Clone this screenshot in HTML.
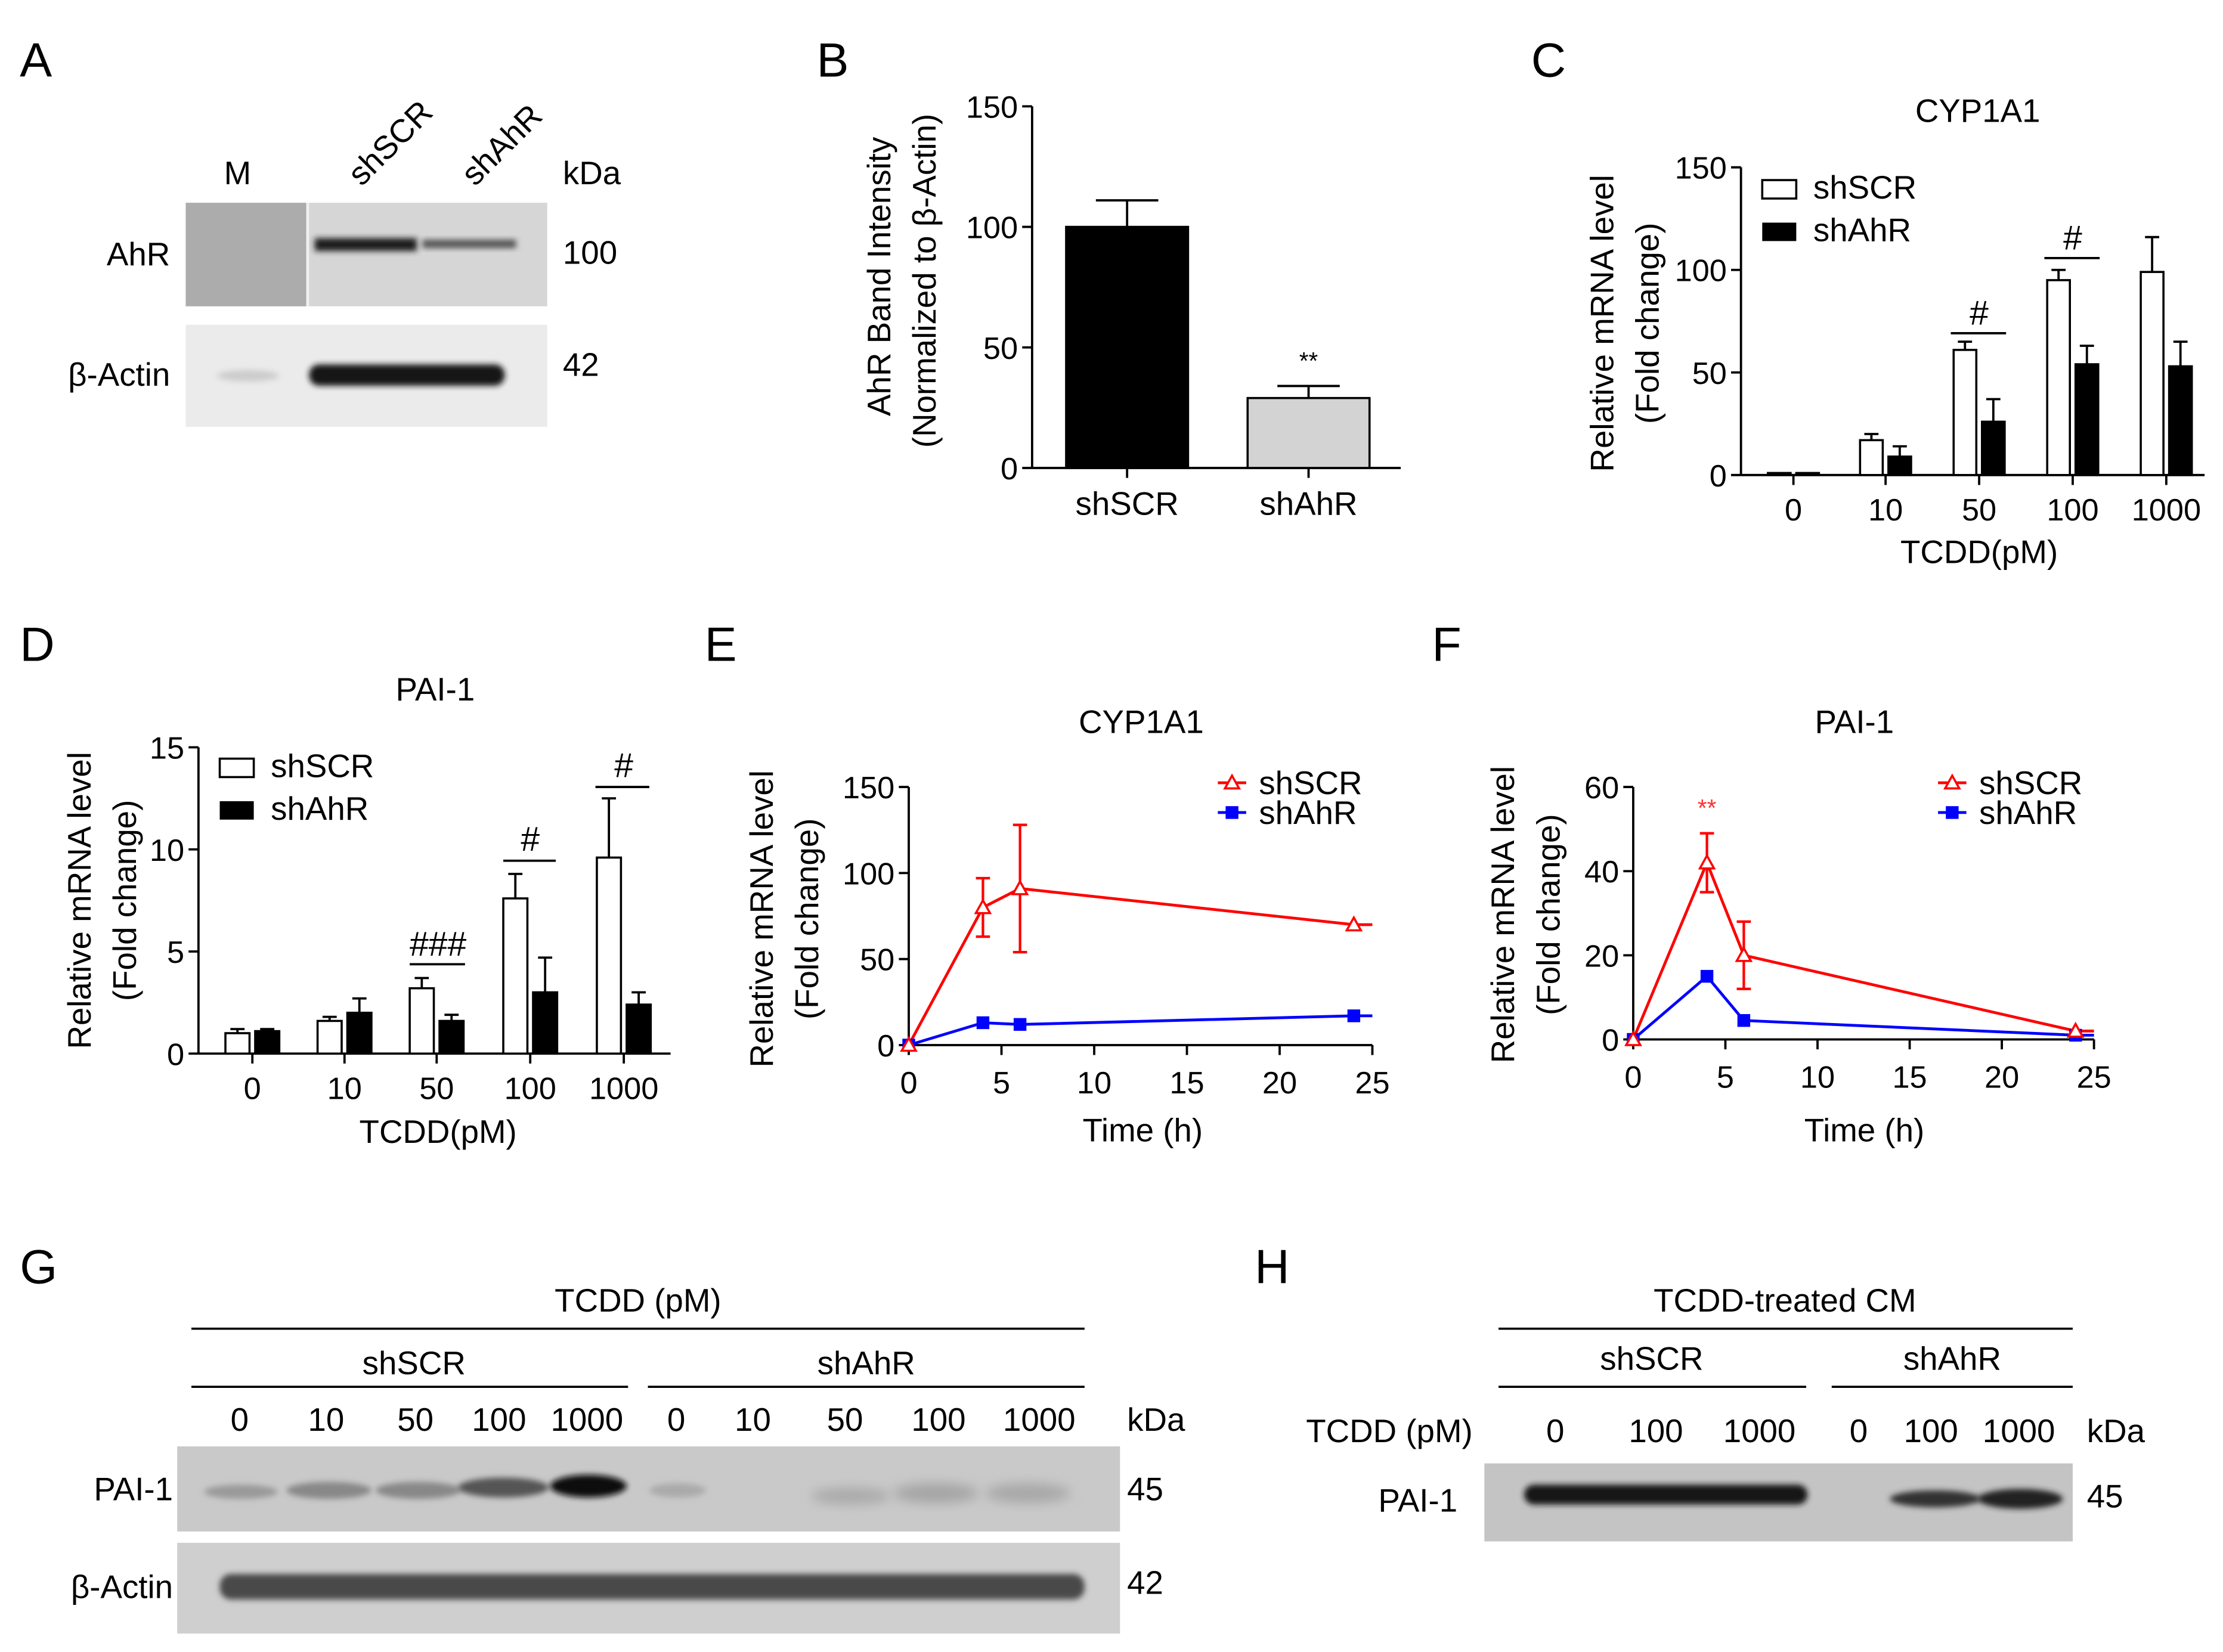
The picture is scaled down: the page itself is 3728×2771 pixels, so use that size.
<!DOCTYPE html>
<html><head><meta charset="utf-8"><style>
html,body{margin:0;padding:0;background:#fff}
svg{display:block}
text{font-family:"Liberation Sans",Arial,sans-serif;fill:#000}
</style></head><body>
<svg id="fig" xmlns="http://www.w3.org/2000/svg" width="3728" height="2771" viewBox="0 0 1568 1165" preserveAspectRatio="none">
<defs>
<filter id="blur2" x="-20%" y="-50%" width="140%" height="200%"><feGaussianBlur stdDeviation="2"/></filter>
<filter id="blur4" x="-20%" y="-50%" width="140%" height="200%"><feGaussianBlur stdDeviation="4"/></filter>
</defs>
<!-- Panel A -->
<g>
<text x="14" y="54" font-size="34">A</text>
<text x="158" y="130" font-size="23">M</text>
<text transform="translate(255,132) rotate(-45)" font-size="23">shSCR</text>
<text transform="translate(335,132) rotate(-45)" font-size="23">shAhR</text>
<text x="397" y="130" font-size="23">kDa</text>
<text x="120" y="187" font-size="23" text-anchor="end">AhR</text>
<text x="120" y="272" font-size="23" text-anchor="end">β-Actin</text>
<text x="397" y="186" font-size="23">100</text>
<text x="397" y="265" font-size="23">42</text>
<g>
<rect x="131" y="143" width="255" height="73" fill="#d6d6d6"/>
<rect x="131" y="143" width="85" height="73" fill="#9a9a9a" opacity="0.7"/>
<rect x="216" y="143" width="2" height="73" fill="#f0f0f0"/>
<rect x="222" y="168" width="72" height="9" fill="#1e1e1e" filter="url(#blur2)"/>
<rect x="298" y="169" width="66" height="6" fill="#555" filter="url(#blur2)"/>
</g>
<g>
<rect x="131" y="229" width="255" height="72" fill="#ebebeb"/>
<ellipse cx="175" cy="265" rx="22" ry="4" fill="#ccc" filter="url(#blur2)"/>
<rect x="218" y="257" width="138" height="15" rx="7" fill="#151515" filter="url(#blur2)"/>
</g>
</g>
<!-- Panel B -->
<g id="pb">
<text x="576" y="54" font-size="34">B</text>
<text transform="translate(628,195) rotate(-90)" font-size="23" text-anchor="middle">AhR Band Intensity</text>
<text transform="translate(660,198) rotate(-90)" font-size="23" text-anchor="middle">(Normalized to β-Actin)</text>
</g>
<!-- Panel C -->
<g id="pc">
<text x="1080" y="54" font-size="34">C</text>
<text x="1395" y="86" font-size="23" text-anchor="middle">CYP1A1</text>
<text transform="translate(1138,228) rotate(-90)" font-size="23" text-anchor="middle">Relative mRNA level</text>
<text transform="translate(1170,228) rotate(-90)" font-size="23" text-anchor="middle">(Fold change)</text>
<text x="1396" y="397" font-size="23" text-anchor="middle">TCDD(pM)</text>
</g>
<!-- Panel D -->
<g id="pd">
<text x="14" y="466" font-size="34">D</text>
<text x="307" y="494" font-size="23" text-anchor="middle">PAI-1</text>
<text transform="translate(64,635) rotate(-90)" font-size="23" text-anchor="middle">Relative mRNA level</text>
<text transform="translate(96,635) rotate(-90)" font-size="23" text-anchor="middle">(Fold change)</text>
<text x="309" y="806" font-size="23" text-anchor="middle">TCDD(pM)</text>
</g>
<!-- Panel E -->
<g id="pe">
<text x="497" y="466" font-size="34">E</text>
<text x="805" y="517" font-size="23" text-anchor="middle">CYP1A1</text>
<text transform="translate(545,648) rotate(-90)" font-size="23" text-anchor="middle">Relative mRNA level</text>
<text transform="translate(577,648) rotate(-90)" font-size="23" text-anchor="middle">(Fold change)</text>
<text x="806" y="805" font-size="23" text-anchor="middle">Time (h)</text>
</g>
<!-- Panel F -->
<g id="pf">
<text x="1010" y="466" font-size="34">F</text>
<text x="1308" y="517" font-size="23" text-anchor="middle">PAI-1</text>
<text transform="translate(1068,645) rotate(-90)" font-size="23" text-anchor="middle">Relative mRNA level</text>
<text transform="translate(1100,645) rotate(-90)" font-size="23" text-anchor="middle">(Fold change)</text>
<text x="1315" y="805" font-size="23" text-anchor="middle">Time (h)</text>
</g>
<!-- Panel G -->
<g>
<text x="14" y="905" font-size="34">G</text>
<text x="450" y="925" font-size="23" text-anchor="middle">TCDD (pM)</text>
<line x1="135" y1="937" x2="765" y2="937" stroke="#000" stroke-width="1.5"/>
<text x="292" y="969" font-size="23" text-anchor="middle">shSCR</text>
<text x="611" y="969" font-size="23" text-anchor="middle">shAhR</text>
<line x1="135" y1="978" x2="443" y2="978" stroke="#000" stroke-width="1.5"/>
<line x1="457" y1="978" x2="765" y2="978" stroke="#000" stroke-width="1.5"/>
<g font-size="23" text-anchor="middle">
<text x="169" y="1009">0</text><text x="230" y="1009">10</text><text x="293" y="1009">50</text><text x="352" y="1009">100</text><text x="414" y="1009">1000</text>
<text x="477" y="1009">0</text><text x="531" y="1009">10</text><text x="596" y="1009">50</text><text x="662" y="1009">100</text><text x="733" y="1009">1000</text>
</g>
<text x="795" y="1009" font-size="23">kDa</text>
<text x="122" y="1058" font-size="23" text-anchor="end">PAI-1</text>
<text x="122" y="1127" font-size="23" text-anchor="end">β-Actin</text>
<text x="795" y="1058" font-size="23">45</text>
<text x="795" y="1124" font-size="23">42</text>
<g>
<rect x="125" y="1020" width="665" height="60" fill="#c9c9c9"/>
<ellipse cx="170" cy="1052" rx="26" ry="5" fill="#9a9a9a" filter="url(#blur2)"/>
<ellipse cx="232" cy="1051" rx="30" ry="6" fill="#888" filter="url(#blur2)"/>
<ellipse cx="295" cy="1051" rx="30" ry="6" fill="#888" filter="url(#blur2)"/>
<ellipse cx="355" cy="1049" rx="32" ry="7" fill="#555" filter="url(#blur2)"/>
<ellipse cx="415" cy="1048" rx="27" ry="8" fill="#111" filter="url(#blur2)"/>
<ellipse cx="478" cy="1051" rx="20" ry="5" fill="#aaa" filter="url(#blur2)"/>
<ellipse cx="600" cy="1055" rx="28" ry="6" fill="#aaa" filter="url(#blur4)"/>
<ellipse cx="660" cy="1053" rx="30" ry="7" fill="#a5a5a5" filter="url(#blur4)"/>
<ellipse cx="725" cy="1053" rx="30" ry="7" fill="#a8a8a8" filter="url(#blur4)"/>
</g>
<g>
<rect x="125" y="1088" width="665" height="64" fill="#cfcfcf"/>
<rect x="155" y="1110" width="610" height="18" rx="8" fill="#4a4a4a" filter="url(#blur2)"/>
</g>
</g>
<!-- Panel H -->
<g>
<text x="885" y="905" font-size="34">H</text>
<text x="1259" y="925" font-size="23" text-anchor="middle">TCDD-treated CM</text>
<line x1="1057" y1="937" x2="1462" y2="937" stroke="#000" stroke-width="1.5"/>
<text x="1165" y="966" font-size="23" text-anchor="middle">shSCR</text>
<text x="1377" y="966" font-size="23" text-anchor="middle">shAhR</text>
<line x1="1057" y1="978" x2="1274" y2="978" stroke="#000" stroke-width="1.5"/>
<line x1="1292" y1="978" x2="1462" y2="978" stroke="#000" stroke-width="1.5"/>
<g font-size="23" text-anchor="middle">
<text x="980" y="1017">TCDD (pM)</text>
<text x="1097" y="1017">0</text><text x="1168" y="1017">100</text><text x="1241" y="1017">1000</text>
<text x="1311" y="1017">0</text><text x="1362" y="1017">100</text><text x="1424" y="1017">1000</text>
</g>
<text x="1472" y="1017" font-size="23">kDa</text>
<text x="1028" y="1066" font-size="23" text-anchor="end">PAI-1</text>
<text x="1472" y="1063" font-size="23">45</text>
<g>
<rect x="1047" y="1032" width="415" height="55" fill="#c4c4c4"/>
<rect x="1075" y="1047" width="200" height="14" rx="7" fill="#151515" filter="url(#blur2)"/>
<ellipse cx="1365" cy="1057" rx="32" ry="6" fill="#333" filter="url(#blur2)"/>
<ellipse cx="1425" cy="1057" rx="30" ry="7" fill="#222" filter="url(#blur2)"/>
</g>
</g>
</svg>
<script>
var NS="http://www.w3.org/2000/svg";
// Panel B data
var bCats=["shSCR","shAhR"];
var bVals=[100,29];
var bErrs=[11,5];
var bTicks=[0,50,100,150];
// Panel C data
var cCats=["0","10","50","100","1000"];
var cSCR=[1,17,61,95,99];
var cSCRerr=[0,3,4,5,17];
var cAhR=[1,9,26,54,53];
var cAhRerr=[0,5,11,9,12];
var cTicks=[0,50,100,150];
// Panel D data
var dCats=["0","10","50","100","1000"];
var dSCR=[1,1.6,3.2,7.6,9.6];
var dSCRerr=[0.2,0.2,0.5,1.2,2.9];
var dAhR=[1.1,2,1.6,3,2.4];
var dAhRerr=[0.1,0.7,0.3,1.7,0.6];
var dTicks=[0,5,10,15];
// Panel E data
var eTimes=[0,4,6,24];
var eSCR=[0,80,91,70];
var eSCRerr=[0,17,37,0];
var eAhR=[0,13,12,17];
var eYTicks=[0,50,100,150];
var eXTicks=[0,5,10,15,20,25];
// Panel F data
var fTimes=[0,4,6,24];
var fSCR=[0,42,20,2];
var fSCRerr=[0,7,8,0];
var fAhR=[0,15,4.5,1];
var fYTicks=[0,20,40,60];
var fXTicks=[0,5,10,15,20,25];

function mk(parent,tag,attrs,txt){var e=document.createElementNS(NS,tag);for(var k in attrs)e.setAttribute(k,attrs[k]);if(txt!==undefined)e.textContent=txt;parent.appendChild(e);return e;}
function line(p,x1,y1,x2,y2,c,w){return mk(p,"line",{x1:x1,y1:y1,x2:x2,y2:y2,stroke:c||"#000","stroke-width":w||1.6});}
function errbar(p,x,y1,y2,hw,c){line(p,x,y1,x,y2,c);line(p,x-hw,y2,x+hw,y2,c);}
function yaxis(p,x,yfn,ticks,y0,y1){line(p,x,y0,x,y1);ticks.forEach(function(t){var y=yfn(t);line(p,x-7,y,x,y);var tx=mk(p,"text",{x:x-10,y:y+8,"font-size":22,"text-anchor":"end"},String(t));});}

// ---- B
(function(){
var g=document.getElementById("pb");
var y=function(v){return 330-v*(255/150);};
yaxis(g,728,y,bTicks,75,330);
line(g,728,330,988,330);
var xs=[795,923];
bVals.forEach(function(v,i){
 var r=mk(g,"rect",{x:xs[i]-43,y:y(v),width:86,height:330-y(v),fill:i==0?"#000":"#d3d3d3",stroke:"#000","stroke-width":1.5});
 
 
 errbar(g,xs[i],y(v),y(v+bErrs[i]),22);
 line(g,xs[i],330,xs[i],337);
 var t=mk(g,"text",{x:xs[i],y:363,"font-size":23,"text-anchor":"middle"},bCats[i]);
 
 
});
mk(g,"text",{x:923,y:y(bVals[1]+bErrs[1])-12,"font-size":17,"text-anchor":"middle"},"**");
})();

function groupedBars(gid,ax,yb,yt,maxV,cx,bw,cats,s1,e1,s2,e2,ticks,xEnd,legend){
 var g=document.getElementById(gid);
 var y=function(v){return yb-v*((yb-yt)/maxV);};
 yaxis(g,ax,y,ticks,yt,yb);
 line(g,ax,yb,xEnd,yb);
 cats.forEach(function(c,i){
  var x=cx[i];
  line(g,x,yb,x,yb+7);
  var t=mk(g,"text",{x:x,y:yb+32,"font-size":22,"text-anchor":"middle"},c);
  
  
  var r1=mk(g,"rect",{x:x-bw-2,y:y(s1[i]),width:bw,height:yb-y(s1[i]),fill:"#fff",stroke:"#000","stroke-width":1.5});
  
  
  if(e1[i]>0)errbar(g,x-bw/2-2,y(s1[i]),y(s1[i]+e1[i]),5);
  var r2=mk(g,"rect",{x:x+2,y:y(s2[i]),width:bw,height:yb-y(s2[i]),fill:"#000",stroke:"#000","stroke-width":1.5});
  
  
  if(e2[i]>0)errbar(g,x+bw/2+2,y(s2[i]),y(s2[i]+e2[i]),5);
 });
 var lg=mk(g,"g",{});
 
 
 mk(lg,"rect",{x:legend[0],y:legend[1]-13,width:24,height:13,fill:"#fff",stroke:"#000","stroke-width":1.5});
 mk(lg,"text",{x:legend[0]+36,y:legend[1],"font-size":23},"shSCR");
 mk(lg,"rect",{x:legend[0],y:legend[1]+17,width:24,height:13,fill:"#000"});
 mk(lg,"text",{x:legend[0]+36,y:legend[1]+30,"font-size":23},"shAhR");
 return {g:g,y:y};
}
// ---- C
(function(){
var r=groupedBars("pc",1228,335,118,150,[1265,1330,1396,1462,1528],16,cCats,cSCR,cSCRerr,cAhR,cAhRerr,cTicks,1555,[1243,140]);
var g=r.g;
line(g,1376,235,1415,235);mk(g,"text",{x:1396,y:229,"font-size":24,"text-anchor":"middle"},"#");
line(g,1442,182,1481,182);mk(g,"text",{x:1462,y:176,"font-size":24,"text-anchor":"middle"},"#");
})();
// ---- D
(function(){
var r=groupedBars("pd",140,743,527,15,[178,243,308,374,440],17,dCats,dSCR,dSCRerr,dAhR,dAhRerr,dTicks,473,[155,548]);
var g=r.g;
line(g,289,680,328,680);mk(g,"text",{x:309,y:674,"font-size":24,"text-anchor":"middle"},"###");
line(g,355,607,392,607);mk(g,"text",{x:374,y:600,"font-size":24,"text-anchor":"middle"},"#");
line(g,420,555,458,555);mk(g,"text",{x:440,y:548,"font-size":24,"text-anchor":"middle"},"#");
})();

function lineChart(gid,x0,x1,yb,yt,maxY,times,s1,e1,s2,yt_,xt_,leg){
 var g=document.getElementById(gid);
 var x=function(t){return x0+t*(x1-x0)/25;};
 var y=function(v){return yb-v*(yb-yt)/maxY;};
 yaxis(g,x0,y,yt_,yt,yb);
 line(g,x0,yb,x1,yb);
 xt_.forEach(function(t){line(g,x(t),yb,x(t),yb+7);var tx=mk(g,"text",{x:x(t),y:yb+34,"font-size":22,"text-anchor":"middle"},String(t));});
 var p1=times.map(function(t,i){return x(t)+","+y(s1[i]);}).join(" ")+" "+x1+","+y(s1[s1.length-1]);
 var p2=times.map(function(t,i){return x(t)+","+y(s2[i]);}).join(" ")+" "+x1+","+y(s2[s2.length-1]);
 var l2=mk(g,"polyline",{points:p2,fill:"none",stroke:"#0000ff","stroke-width":2});
 
 
 var l1=mk(g,"polyline",{points:p1,fill:"none",stroke:"#ff0000","stroke-width":2});
 
 
 times.forEach(function(t,i){
  if(e1[i]>0){var c="#ff0000";line(g,x(t),y(s1[i]-e1[i]),x(t),y(s1[i]+e1[i]),c,1.8);line(g,x(t)-5,y(s1[i]+e1[i]),x(t)+5,y(s1[i]+e1[i]),c,1.8);line(g,x(t)-5,y(s1[i]-e1[i]),x(t)+5,y(s1[i]-e1[i]),c,1.8);}
  var m=mk(g,"rect",{x:x(t)-4.5,y:y(s2[i])-4.5,width:9,height:9,fill:"#0000ff"});
  
  
  var tr=mk(g,"polygon",{points:(x(t)-5)+","+(y(s1[i])+4)+" "+(x(t)+5)+","+(y(s1[i])+4)+" "+x(t)+","+(y(s1[i])-5),fill:"#fff",stroke:"#ff0000","stroke-width":1.5});
  
  
 });
 var lg=mk(g,"g",{});
 
 
 line(lg,leg[0],leg[1],leg[0]+20,leg[1],"#ff0000",2);
 mk(lg,"polygon",{points:(leg[0]+5)+","+(leg[1]+4)+" "+(leg[0]+15)+","+(leg[1]+4)+" "+(leg[0]+10)+","+(leg[1]-5),fill:"#fff",stroke:"#ff0000","stroke-width":1.5});
 mk(lg,"text",{x:leg[0]+29,y:leg[1]+8,"font-size":23},"shSCR");
 line(lg,leg[0],leg[1]+21,leg[0]+20,leg[1]+21,"#0000ff",2);
 mk(lg,"rect",{x:leg[0]+5.5,y:leg[1]+16.5,width:9,height:9,fill:"#0000ff"});
 mk(lg,"text",{x:leg[0]+29,y:leg[1]+29,"font-size":23},"shAhR");
 return {g:g,x:x,y:y};
}
lineChart("pe",641,968,737,555,150,eTimes,eSCR,eSCRerr,eAhR,eYTicks,eXTicks,[859,552]);
(function(){
var r=lineChart("pf",1152,1477,733,555,60,fTimes,fSCR,fSCRerr,fAhR,fYTicks,fXTicks,[1367,552]);
mk(r.g,"text",{x:r.x(fTimes[1]),y:r.y(fSCR[1]+fSCRerr[1])-12,"font-size":17,"text-anchor":"middle",fill:"#ff3030",style:"fill:#ff3030"},"**");
})();
</script>
</body></html>
